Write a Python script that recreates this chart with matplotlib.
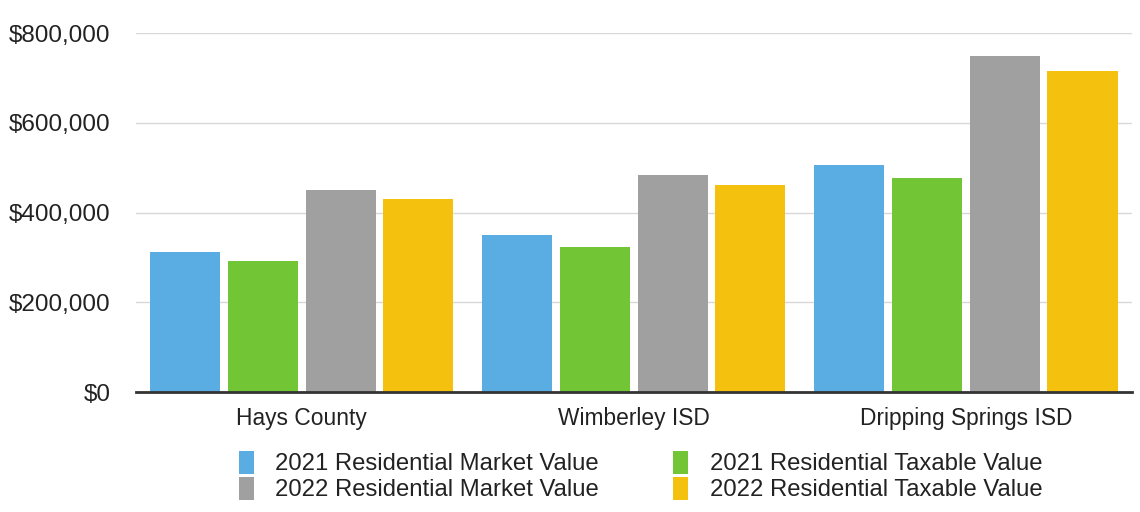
import numpy as np
import matplotlib.pyplot as plt
from matplotlib.ticker import FuncFormatter

plt.rcParams['font.family'] = ['Liberation Sans', 'DejaVu Sans']

categories = ["Hays County", "Wimberley ISD", "Dripping Springs ISD"]
series_names = [
    "2021 Residential Market Value",
    "2021 Residential Taxable Value",
    "2022 Residential Market Value",
    "2022 Residential Taxable Value",
]
market_2021 = [312000, 350000, 506000]
taxable_2021 = [292000, 323000, 477000]
market_2022 = [450000, 484000, 749000]
taxable_2022 = [430000, 461000, 716000]
colors = ["#5AADE3", "#72C534", "#A0A0A0", "#F4C10E"]
y_ticks = [0, 200000, 400000, 600000, 800000]

series = [market_2021, taxable_2021, market_2022, taxable_2022]

fig = plt.figure(figsize=(11.4, 5.12), dpi=100)
ax = fig.add_axes([0.119, 0.234, 0.874, 0.7015])

x = np.arange(len(categories))
pitch = 0.234
width = 0.211
bars = []
for i, (vals, col) in enumerate(zip(series, colors)):
    b = ax.bar(x + (i - 1.5) * pitch, vals, width=width, color=col, zorder=3)
    bars.append(b)

ax.set_xlim(-0.5, 2.5)
ax.set_ylim(0, 800000)
ax.set_yticks(y_ticks)
ax.yaxis.set_major_formatter(FuncFormatter(lambda v, p: f"${v:,.0f}"))
ax.set_xticks(x)
ax.set_xticklabels(categories)
ax.tick_params(axis='both', length=0, colors='#222222')
ax.tick_params(axis='y', pad=18, labelsize=17.5)
ax.tick_params(axis='x', pad=11, labelsize=16.4)
ax.grid(axis='y', color='#D8D8D8', linewidth=1, zorder=0)
for s in ['top', 'right', 'left']:
    ax.spines[s].set_visible(False)
ax.spines['bottom'].set_color('#333333')
ax.spines['bottom'].set_linewidth(2)
ax.spines['bottom'].set_zorder(4)

order = [0, 2, 1, 3]
fig.legend([bars[i] for i in order], [series_names[i] for i in order],
           ncol=2, loc='center', bbox_to_anchor=(0.562, 1 - 476 / 512),
           frameon=False, fontsize=17.2, handlelength=0.62, handleheight=1.1,
           handletextpad=0.9, columnspacing=3.1, labelspacing=0.05,
           labelcolor='#222222')

fig.savefig('out.png', dpi=100, facecolor='white')
